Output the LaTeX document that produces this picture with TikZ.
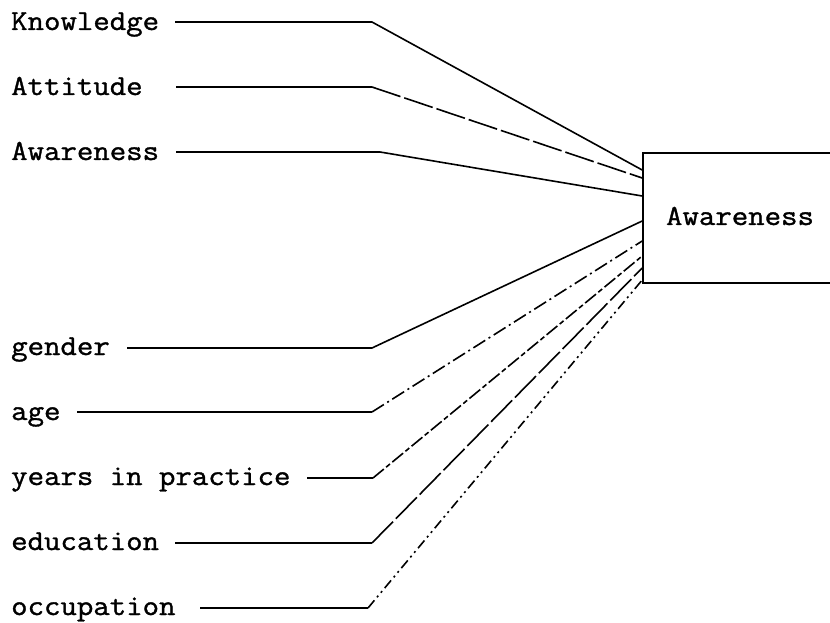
\documentclass[tikz,border=0pt]{standalone}
\usepackage{fontspec}
\setmonofont[FakeStretch=1.1, FakeBold=1.2]{Latin Modern Mono}
\begin{document}
\begin{tikzpicture}[x=1pt,y=-1pt,
  lab/.style={font=\ttfamily\fontsize{29}{32}\selectfont, inner sep=0pt, anchor=base west},
  conn/.style={line width=1.6pt, line join=round},
  ldash/.style={dash pattern=on 30pt off 4pt},
  dashdotA/.style={dash pattern=on 14pt off 4pt on 2pt off 4pt},
  dashB/.style={dash pattern=on 14pt off 3pt on 5pt off 3pt},
  ddot/.style={dash pattern=on 10pt off 4pt on 2pt off 4pt on 2pt off 4pt}]
\useasboundingbox (0,0) rectangle (830,623);
\clip (0,0) rectangle (830,623);
\fill[white] (0,0) rectangle (830,623);

% box
\node[draw, line width=1.6pt, minimum width=200pt, minimum height=130pt, inner sep=0pt] (box) at (743,218) {};
\node[font=\ttfamily\fontsize{29}{32}\selectfont, inner sep=0pt] (boxtext) at (740,216) {Awareness};

% labels
\node[lab] (kn) at (11,30) {Knowledge};
\node[lab] (at) at (11,95) {Attitude};
\node[lab] (aw) at (11,160) {Awareness};
\node[lab] (ge) at (11,355) {gender};
\node[lab] (ag) at (11,420) {age};
\node[lab] (yr) at (11,485) {years in practice};
\node[lab] (ed) at (11,550) {education};
\node[lab] (oc) at (11,615) {occupation};

% start points
\coordinate (kn0) at (175,22);
\coordinate (at0) at (176,87);
\coordinate (aw0) at (176,152);
\coordinate (ge0) at (127,348);
\coordinate (ag0) at (77,412);
\coordinate (yr0) at (307,478);
\coordinate (ed0) at (175,543);
\coordinate (oc0) at (200,608);
% bends
\coordinate (kn1) at (372,22);
\coordinate (at1) at (372,87);
\coordinate (aw1) at (380,152);
\coordinate (ge1) at (372,348);
\coordinate (ag1) at (372,412);
\coordinate (yr1) at (373,478);
\coordinate (ed1) at (372,543);
\coordinate (oc1) at (368,608);
% ends on the box
\coordinate (kn2) at (box.west |- 0,170);
\coordinate (at2) at (box.west |- 0,178);
\coordinate (aw2) at (box.west |- 0,196);
\coordinate (ge2) at (box.west |- 0,221);
\coordinate (ag2) at (box.west |- 0,241);
\coordinate (yr2) at (box.west |- 0,256);
\coordinate (ed2) at (box.west |- 0,268);
\coordinate (oc2) at (box.west |- 0,280);

\draw[conn] (kn0) -- (kn1) -- (kn2);
\draw[conn] (at0) -- (at1);
\draw[conn, ldash] (at1) -- (at2);
\draw[conn] (aw0) -- (aw1) -- (aw2);
\draw[conn] (ge0) -- (ge1) -- (ge2);
\draw[conn] (ag0) -- (ag1);
\draw[conn, dashdotA] (ag1) -- (ag2);
\draw[conn] (yr0) -- (yr1);
\draw[conn, dashB] (yr1) -- (yr2);
\draw[conn] (ed0) -- (ed1);
\draw[conn, ldash] (ed1) -- (ed2);
\draw[conn] (oc0) -- (oc1);
\draw[conn, ddot] (oc1) -- (oc2);
\end{tikzpicture}
\end{document}
